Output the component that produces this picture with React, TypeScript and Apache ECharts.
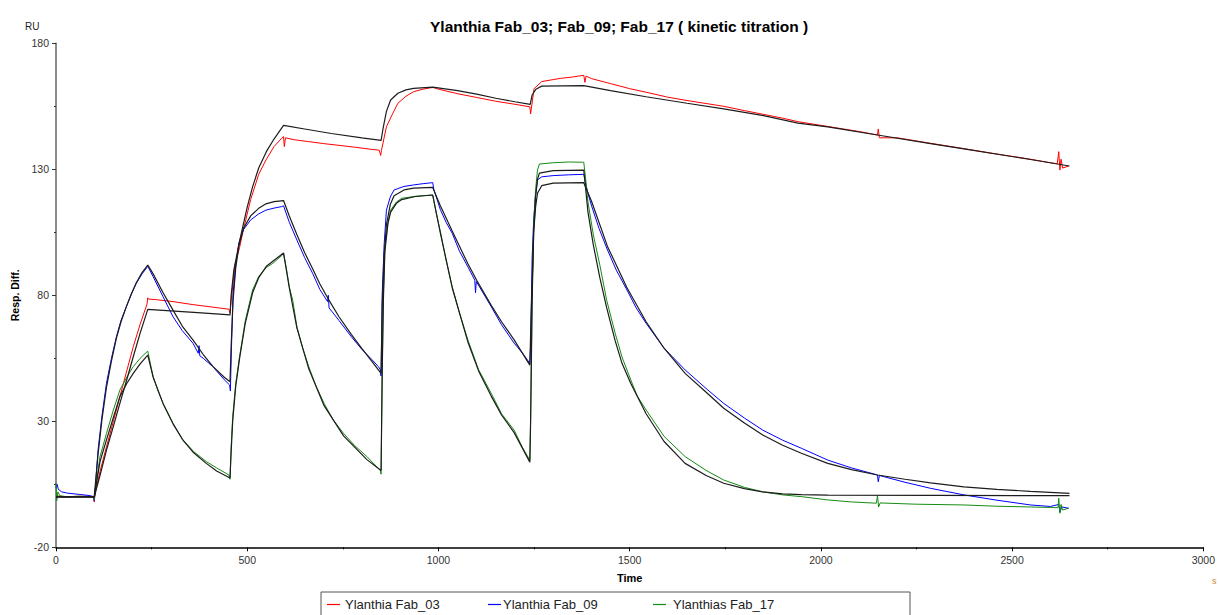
import React, { useEffect, useRef } from "react";
import * as echarts from "echarts";

const xTicks = [0, 500, 1000, 1500, 2000, 2500, 3000];
const yTicks = [-20, 30, 80, 130, 180];

const legendNames = ["Ylanthia Fab_03", "Ylanthia Fab_09", "Ylanthias Fab_17"];

// Ylanthia Fab_03 measured response [time s, RU]
const fab03: [number, number][] = [
  [0, 0.5], [20, 0], [50, 0.2], [80, 0.3], [98, 0], [100, -2], [102, 1], [115, 10], [132, 19.9], [150, 30],
  [167, 39.8], [185, 50], [202, 59.6], [220, 68.5], [238, 76.5], [240, 79], [242, 78.5], [260, 78.3],
  [306, 77.5], [358, 76.3], [410, 75.3], [452, 74.5], [455, 73], [458, 78], [468, 92], [480, 99], [490, 106],
  [509, 118], [530, 128], [549, 133.7], [570, 139], [590, 142.3], [595, 143], [597, 139], [600, 142.5],
  [620, 141.8], [660, 141], [700, 140.2], [740, 139.5], [780, 138.8], [820, 138], [845, 137.6], [849, 135.5],
  [851, 137.5], [864, 146.9], [880, 152], [894, 156.2], [915, 159], [935, 160.8], [960, 161.8], [985, 162.5],
  [1000, 161.8], [1050, 160], [1100, 158.5], [1150, 157], [1200, 155.8], [1239, 154.8], [1241, 152],
  [1250, 162], [1270, 164.8], [1300, 165.6], [1320, 166.1], [1350, 166.6], [1366, 167], [1380, 167.3],
  [1383, 164.5], [1386, 167], [1400, 166], [1450, 164], [1500, 162], [1543, 160.6], [1600, 158.6],
  [1650, 157.3], [1746, 155], [1800, 153.3], [1900, 150.3], [1940, 148.9], [2018, 147], [2100, 145],
  [2148, 143.6], [2150, 146], [2153, 142.5], [2200, 142.5], [2287, 140.3], [2374, 138.2], [2450, 136.3],
  [2548, 134], [2600, 132.6], [2618, 132.2], [2622, 137], [2625, 129.7], [2628, 134], [2632, 130.5], [2648, 131.3],
];

// Ylanthia Fab_03 fit
const fab03Fit: [number, number][] = [
  [0, 0], [100, 0], [115, 8.5], [132, 18.6], [150, 28], [167, 37.1], [185, 46.5], [202, 55.6], [220, 65],
  [240, 74.4], [300, 73.8], [380, 73], [455, 72.2], [458, 80], [465, 90], [480, 101.5], [500, 115], [514, 123],
  [530, 130.5], [550, 137], [570, 142], [595, 147.4], [650, 146], [720, 144.2], [800, 142.5], [850, 141.5],
  [855, 146], [864, 153], [875, 157.5], [894, 160.2], [915, 161.5], [935, 162.1], [985, 162.6], [1050, 161.2],
  [1100, 159.8], [1150, 158.2], [1200, 156.8], [1240, 155.8], [1245, 159.5], [1255, 161.8], [1270, 163],
  [1380, 163.2], [1450, 161.2], [1543, 158.8], [1650, 156.2], [1746, 154], [1850, 151.3], [1940, 148.3],
  [2018, 146.8], [2148, 143.6], [2287, 140.2], [2374, 138.1], [2548, 133.9], [2650, 131.3],
];

// Ylanthia Fab_09 measured response
const fab09: [number, number][] = [
  [0, 3.5], [3, 5], [6, 3], [15, 2], [30, 1.5], [60, 1], [90, 0.5], [99, 0], [100, -1.5], [102, 2], [110, 18.6],
  [120, 32], [132, 45.1], [145, 55], [158, 63.6], [170, 70], [184, 75.5], [197, 80.5], [210, 84.8], [225, 88.5],
  [238, 91.1], [240, 91.5], [254, 87.4], [280, 79.4], [306, 71.5], [330, 66], [358, 61], [372, 57], [374, 60],
  [376, 56], [385, 55], [410, 51.7], [440, 46.5], [454, 44.4], [456, 42], [458, 55], [463, 80.8], [470, 92],
  [478, 100.6], [490, 106], [509, 109.9], [530, 112.3], [549, 113.8], [570, 114.6], [590, 115.2], [595, 115.5],
  [610, 109], [630, 101.9], [650, 95], [671, 88.7], [690, 82.3], [710, 77.5], [712, 80], [714, 75], [740, 70],
  [772, 63.6], [800, 58.5], [826, 54.5], [843, 51.7], [848, 50.5], [850, 48], [853, 80.8], [858, 100],
  [864, 113.8], [874, 119], [884, 121.8], [910, 123.2], [935, 123.8], [960, 124.3], [985, 124.7], [988, 122],
  [1005, 114], [1020, 109], [1036, 104.6], [1055, 97.5], [1077, 91.3], [1095, 86], [1097, 81], [1099, 85.5],
  [1138, 75.5], [1165, 68.3], [1198, 61], [1220, 57], [1239, 53], [1241, 60], [1245, 95], [1249, 109.9],
  [1254, 120], [1259, 125.8], [1270, 127], [1300, 127.5], [1340, 127.8], [1380, 128], [1390, 121],
  [1401, 115.2], [1420, 106.5], [1442, 98], [1465, 90], [1493, 82.1], [1517, 75], [1543, 68.9], [1590, 59],
  [1645, 50.4], [1700, 43], [1746, 37.1], [1800, 31.3], [1848, 26.5], [1900, 22.5], [1949, 19.3], [2018, 14.6],
  [2080, 11.5], [2148, 8.7], [2150, 6], [2153, 8.5], [2220, 5.8], [2287, 3.4], [2374, 0.8], [2460, -1.3],
  [2548, -3.2], [2600, -3.8], [2622, -3], [2625, -6], [2630, -4], [2648, -4.5],
];

// Ylanthia Fab_09 fit
const fab09Fit: [number, number][] = [
  [0, 0], [100, 0], [110, 17], [120, 30.5], [132, 43.5], [145, 54], [158, 63], [170, 69.5], [184, 75.5],
  [197, 80.5], [210, 85], [225, 89], [240, 92], [254, 88.5], [280, 81], [306, 74.1], [330, 67.8], [358, 62.3],
  [385, 56.5], [410, 51.8], [440, 47.5], [455, 45.7], [458, 60], [463, 78], [470, 91], [478, 99.5], [490, 106.5],
  [509, 111.5], [530, 114.5], [549, 116.3], [570, 117.2], [595, 117.6], [610, 111.5], [630, 104], [650, 97],
  [671, 90.5], [690, 84.5], [712, 78.5], [740, 71.5], [772, 64.5], [800, 58.8], [826, 53.8], [850, 49],
  [853, 76], [858, 96], [864, 108], [874, 116], [884, 119.5], [910, 121.8], [935, 122.5], [985, 122.8],
  [1005, 115.5], [1036, 105.5], [1077, 92.5], [1100, 86], [1138, 76], [1165, 69.5], [1198, 62.3], [1239, 52.3],
  [1242, 70], [1249, 105], [1254, 115], [1259, 120.5], [1270, 123.5], [1300, 124.5], [1380, 124.7],
  [1401, 117], [1442, 99.4], [1493, 83], [1543, 69.5], [1590, 59], [1645, 49], [1700, 41.5], [1746, 35.2],
  [1800, 29.3], [1848, 24.6], [1900, 20.5], [1949, 17.3], [2018, 13.3], [2080, 10.8], [2148, 8.7], [2220, 7],
  [2287, 5.6], [2374, 4], [2460, 3], [2548, 2.2], [2650, 1.4],
];

// Ylanthias Fab_17 measured response
const fab17: [number, number][] = [
  [0, 5.5], [2, -1.5], [5, 2], [10, 0.5], [30, 0], [60, 0.3], [90, 0], [99, 0], [100, -1], [102, 2], [115, 15.9],
  [132, 25.2], [150, 34.5], [167, 42.4], [185, 47.5], [202, 51.7], [220, 55], [238, 57.6], [240, 57.8],
  [254, 47.7], [267, 42], [280, 37.1], [306, 29.2], [332, 22.6], [360, 18], [393, 14], [420, 11.5], [452, 8.7],
  [455, 7], [458, 20], [462, 31.8], [470, 45], [480, 55.6], [495, 70], [514, 82.1], [530, 87.5], [550, 91],
  [567, 92.7], [592, 96], [595, 96.5], [602, 91], [610, 83.4], [619, 78], [630, 67.5], [645, 59], [661, 51.7],
  [680, 44], [701, 37.1], [725, 30.5], [752, 25.2], [780, 20.5], [813, 16], [843, 11.3], [848, 10.5], [850, 9],
  [853, 50], [856, 80], [860, 99.3], [868, 109], [875, 113.8], [890, 117], [904, 118.5], [940, 119.3],
  [985, 119.8], [995, 112], [1006, 104.6], [1020, 94], [1036, 83.4], [1055, 73], [1077, 62.3], [1105, 50.5],
  [1138, 41.1], [1165, 33], [1198, 26.5], [1220, 19.5], [1239, 14.6], [1241, 30], [1245, 80], [1249, 108],
  [1254, 122], [1259, 129.7], [1264, 132.1], [1300, 132.6], [1340, 132.9], [1380, 132.8], [1385, 126],
  [1391, 117], [1405, 104], [1422, 92], [1440, 78], [1462, 65], [1480, 55.5], [1503, 46.4], [1520, 40],
  [1543, 34.5], [1590, 24], [1645, 16], [1700, 10.5], [1746, 6.7], [1800, 3.8], [1848, 2], [1900, 0.8],
  [1949, 0.1], [2018, -1.2], [2080, -2], [2145, -2.5], [2148, 0.5], [2151, -4], [2155, -2.4], [2250, -2.9],
  [2374, -3.2], [2460, -3.7], [2548, -4], [2600, -4.2], [2620, -4.3], [2622, -0.5], [2625, -6.5], [2628, -3],
  [2632, -5.2], [2648, -4.5],
];

// Ylanthias Fab_17 fit
const fab17Fit: [number, number][] = [
  [0, 0], [100, 0], [115, 14], [132, 22.6], [150, 31.5], [167, 39.8], [185, 45], [202, 49], [220, 52.8],
  [240, 56.3], [254, 47.5], [280, 37], [306, 29], [332, 22.5], [360, 17.5], [393, 13.3], [420, 10.3], [455, 7.5],
  [458, 18], [462, 30], [470, 44], [480, 55], [495, 69], [514, 81], [530, 87], [550, 91.5], [567, 93.5],
  [595, 96.8], [610, 83], [630, 67], [661, 50.8], [701, 36.2], [752, 24.2], [813, 14.8], [850, 10.5], [853, 50],
  [856, 78], [860, 97.5], [868, 108.5], [875, 113], [890, 116.5], [904, 118], [940, 119.2], [985, 119.8],
  [1006, 104], [1036, 83], [1077, 61.5], [1105, 50], [1138, 40], [1165, 32.5], [1198, 25.5], [1239, 13.8],
  [1241, 30], [1245, 78], [1249, 105], [1254, 119], [1259, 126], [1264, 128.5], [1300, 129.5], [1380, 129.7],
  [1391, 113], [1405, 100], [1422, 87], [1440, 75], [1462, 62], [1480, 53], [1503, 45], [1543, 33], [1590, 22],
  [1645, 13.3], [1700, 8.5], [1746, 5.4], [1800, 3.3], [1848, 2], [1900, 1.2], [1949, 0.9], [2018, 0.7],
  [2300, 0.6], [2650, 0.5],
];

const FONT = "'Liberation Sans', Arial, sans-serif";

export default function App() {
  const ref = useRef<HTMLDivElement>(null);

  useEffect(() => {
    if (!ref.current) return;
    const chart = echarts.init(ref.current, undefined, { renderer: "svg" });

    const dataLine = (name: string, data: [number, number][], color: string) => ({
      name,
      type: "line",
      data,
      symbol: "none",
      showSymbol: false,
      silent: true,
      lineStyle: { color, width: 1 },
      itemStyle: { color },
      z: 2,
    });
    const fitLine = (name: string, data: [number, number][]) => ({
      name,
      type: "line",
      data,
      symbol: "none",
      showSymbol: false,
      silent: true,
      lineStyle: { color: "#1c1c1c", width: 1.2 },
      itemStyle: { color: "#1c1c1c" },
      z: 3,
    });

    const legendLefts = [327, 488, 653];
    const legendColors = ["#ff0000", "#0000ff", "#148c14"];

    chart.setOption({
      animation: false,
      backgroundColor: "#ffffff",
      title: {
        text: "Ylanthia Fab_03; Fab_09; Fab_17 ( kinetic titration )",
        left: 425,
        top: 13,
        textStyle: { fontFamily: FONT, fontSize: 15.5, fontWeight: "bold", color: "#000" },
      },
      legend: legendNames.map((n, i) => ({
        data: [n],
        left: legendLefts[i],
        top: 598,
        padding: 0,
        icon: "rect",
        itemWidth: 13,
        itemHeight: 1.2,
        itemGap: 0,
        selectedMode: false,
        textStyle: {
          fontFamily: FONT,
          fontSize: 13,
          color: "#222",
          padding: i === 1 ? [0, 0, 0, -3] : i === 2 ? [0, 0, 0, 2] : 0,
        },
        itemStyle: { color: legendColors[i] },
      })),
      grid: { left: 56, right: 11, top: 43.3, bottom: 67.7, containLabel: false },
      xAxis: {
        type: "value",
        min: xTicks[0],
        max: xTicks[xTicks.length - 1],
        interval: 500,
        name: "Time",
        nameLocation: "middle",
        nameGap: 25,
        nameTextStyle: { fontFamily: FONT, fontSize: 11, fontWeight: "bold", color: "#000" },
        axisLine: { show: true, onZero: false, lineStyle: { color: "#000", width: 1.5 } },
        axisTick: { show: true, inside: false, length: 4, lineStyle: { color: "#000", width: 1 } },
        minorTick: { show: true, splitNumber: 2, length: 2, lineStyle: { color: "#000" } },
        axisLabel: {
          fontFamily: FONT,
          fontSize: 10.5,
          color: "#333",
          margin: 7,
          formatter: (v: number) => String(v),
        },
        splitLine: { show: false },
        minorSplitLine: { show: false },
      },
      yAxis: {
        type: "value",
        min: yTicks[0],
        max: yTicks[yTicks.length - 1],
        interval: 50,
        name: "Resp. Diff.",
        nameLocation: "middle",
        nameGap: 35,
        nameRotate: 90,
        nameTextStyle: { fontFamily: FONT, fontSize: 10.5, fontWeight: "bold", color: "#000" },
        axisLine: { show: true, onZero: false, lineStyle: { color: "#666", width: 1.5 } },
        axisTick: { show: true, inside: false, length: 4, lineStyle: { color: "#333", width: 1 } },
        minorTick: { show: true, splitNumber: 2, length: 2, lineStyle: { color: "#333" } },
        axisLabel: {
          fontFamily: FONT,
          fontSize: 10.5,
          color: "#333",
          margin: 7,
          formatter: (v: number) => String(v),
        },
        splitLine: { show: false },
        minorSplitLine: { show: false },
      },
      graphic: [
        {
          type: "text",
          left: 25,
          top: 21,
          style: { text: "RU", fontFamily: FONT, fontSize: 10, fill: "#222" },
        },
        {
          type: "text",
          left: 1212,
          top: 576,
          style: { text: "s", fontFamily: FONT, fontSize: 9, fill: "#c08a30" },
        },
        {
          type: "rect",
          shape: { x: 321, y: 592, width: 589, height: 30 },
          style: { fill: "none", stroke: "#555", lineWidth: 1 },
          z: -1,
        },
      ],
      series: [
        dataLine(legendNames[0], fab03, legendColors[0]),
        dataLine(legendNames[1], fab09, legendColors[1]),
        dataLine(legendNames[2], fab17, legendColors[2]),
        fitLine("Fit Fab_03", fab03Fit),
        fitLine("Fit Fab_09", fab09Fit),
        fitLine("Fit Fab_17", fab17Fit),
      ],
    });

    return () => chart.dispose();
  }, []);

  return (
    <div
      ref={ref}
      style={{ position: "fixed", left: 0, top: 0, width: 1218, height: 615, background: "#fff" }}
    />
  );
}
